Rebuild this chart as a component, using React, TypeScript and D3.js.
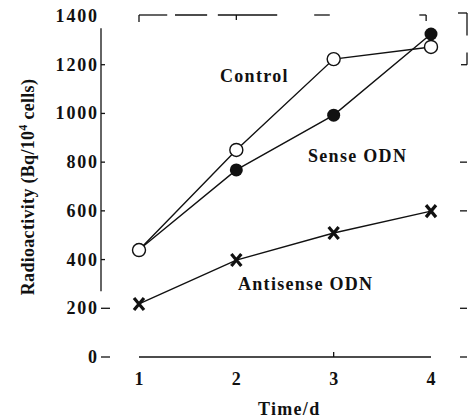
import { useEffect, useRef } from 'react'
import * as d3 from 'd3'

const days = [1, 2, 3, 4]
const controlValues = [439, 850, 1223, 1273]
const senseValues = [440, 768, 993, 1326]
const antisenseValues = [218, 398, 509, 599]
const yTicks = [0, 200, 400, 600, 800, 1000, 1200, 1400]
const xTicks = [1, 2, 3, 4]

const FONT = '"Liberation Serif", "Times New Roman", serif'

export default function App() {
  const svgRef = useRef<SVGSVGElement>(null)

  useEffect(() => {
    if (!svgRef.current) return
    const svg = d3.select(svgRef.current)
    svg.selectAll('*').remove()

    const x = d3.scaleLinear().domain([1, 4]).range([139, 431])
    const y = d3.scaleLinear().domain([0, 1400]).range([357, 16])
    const ink = '#111'

    const frame = svg.append('g').attr('stroke', ink).attr('stroke-width', 1.3).attr('fill', 'none')

    // left axis (broken in the scan)
    frame.append('line')
      .attr('x1', 101).attr('x2', 101)
      .attr('y1', y(1350)).attr('y2', y(270))

    // left ticks, pointing inward
    yTicks.forEach(t => {
      if (t === 1400) return
      frame.append('line')
        .attr('x1', 101).attr('x2', t <= 200 ? 110 : 105)
        .attr('y1', y(t)).attr('y2', y(t))
    })

    // top edge pieces
    const topPieces: [number, number][] = [[1, 1.29], [1.37, 1.7], [1.81, 2.42], [2.8, 2.96], [3.88, 3.95]]
    topPieces.forEach(([a, b]) => {
      frame.append('line')
        .attr('x1', x(a)).attr('x2', x(b))
        .attr('y1', y(1400) - 1).attr('y2', y(1400) - 1)
    })
    frame.append('line').attr('x1', x(1)).attr('x2', x(1)).attr('y1', y(1400) - 1).attr('y2', y(1400) + 6)
    frame.append('line').attr('x1', x(2)).attr('x2', x(2)).attr('y1', y(1400) - 1).attr('y2', y(1400) + 4)
    frame.append('line').attr('x1', x(3.95)).attr('x2', x(3.95)).attr('y1', y(1400) - 1).attr('y2', y(1400) + 5)

    // right edge
    const rx = 467
    frame.append('line').attr('x1', rx - 9).attr('x2', rx).attr('y1', y(1400) - 3).attr('y2', y(1400) - 3)
    frame.append('line').attr('x1', rx).attr('x2', rx).attr('y1', y(1400) - 3).attr('y2', y(1320))
    frame.append('line').attr('x1', rx).attr('x2', rx).attr('y1', y(1250)).attr('y2', y(1200))
    frame.append('line').attr('x1', rx - 6).attr('x2', rx).attr('y1', y(1200)).attr('y2', y(1200))
    ;[800, 600, 200, 0].forEach(t => {
      frame.append('line').attr('x1', rx - 7).attr('x2', rx).attr('y1', y(t)).attr('y2', y(t))
    })

    // bottom axis
    frame.append('line').attr('x1', x(1)).attr('x2', x(4)).attr('y1', y(0)).attr('y2', y(0))
    frame.append('line').attr('x1', x(3)).attr('x2', x(3)).attr('y1', y(0)).attr('y2', y(0) - 5)

    // tick labels
    const tickLs = 1.8
    svg.append('g').selectAll('text').data(yTicks).join('text')
      .attr('x', 97 + tickLs).attr('y', d => y(d) + 6)
      .attr('text-anchor', 'end')
      .attr('font-family', FONT).attr('font-weight', 'bold').attr('font-size', 18)
      .attr('letter-spacing', tickLs)
      .attr('fill', ink)
      .text(d => d)

    svg.append('g').selectAll('text').data(xTicks).join('text')
      .attr('x', d => x(d)).attr('y', 385)
      .attr('text-anchor', 'middle')
      .attr('font-family', FONT).attr('font-weight', 'bold').attr('font-size', 18)
      .attr('fill', ink)
      .text(d => d)

    svg.append('text')
      .attr('x', 258).attr('y', 415)
      .attr('font-family', FONT).attr('font-weight', 'bold').attr('font-size', 18)
      .attr('letter-spacing', 1.3)
      .attr('fill', ink)
      .text('Time/d')

    const yl = svg.append('text')
      .attr('transform', 'translate(34,187) rotate(-90)')
      .attr('text-anchor', 'middle')
      .attr('font-family', FONT).attr('font-weight', 'bold').attr('font-size', 18)
      .attr('letter-spacing', 0.3)
      .attr('fill', ink)
    yl.append('tspan').text('Radioactivity (Bq/10')
    yl.append('tspan').attr('font-size', 12).attr('dy', -7).text('4')
    yl.append('tspan').attr('dy', 7).text(' cells)')

    // series lines
    const line = d3.line<number>().x((_, i) => x(days[i])).y(d => y(d))
    ;[controlValues, senseValues, antisenseValues].forEach(vals => {
      svg.append('path')
        .datum(vals)
        .attr('d', line)
        .attr('fill', 'none')
        .attr('stroke', ink)
        .attr('stroke-width', 1.4)
    })

    // markers
    svg.append('g').selectAll('circle').data(senseValues).join('circle')
      .attr('cx', (_, i) => x(days[i])).attr('cy', d => y(d))
      .attr('r', 6.5).attr('fill', ink)

    svg.append('g').selectAll('circle').data(controlValues).join('circle')
      .attr('cx', (_, i) => x(days[i])).attr('cy', d => y(d))
      .attr('r', 6.5).attr('fill', '#fff').attr('stroke', ink).attr('stroke-width', 1.4)

    svg.append('g').selectAll('path').data(antisenseValues).join('path')
      .attr('d', (d, i) => {
        const cx = x(days[i]), cy = y(d), sx = 5, sy = 6
        return `M${cx - sx},${cy - sy}L${cx + sx},${cy + sy}M${cx + sx},${cy - sy}L${cx - sx},${cy + sy}`
      })
      .attr('stroke', ink).attr('stroke-width', 3.2).attr('fill', 'none')

    // series labels
    const labels = [
      { text: 'Control', x: 220, y: 82 },
      { text: 'Sense ODN', x: 308, y: 162 },
      { text: 'Antisense ODN', x: 238, y: 290 },
    ]
    svg.append('g').selectAll('text').data(labels).join('text')
      .attr('x', d => d.x).attr('y', d => d.y)
      .attr('font-family', FONT).attr('font-weight', 'bold').attr('font-size', 18)
      .attr('letter-spacing', 1.3)
      .attr('fill', ink)
      .text(d => d.text)
  }, [])

  return (
    <svg
      ref={svgRef}
      width={474}
      height={419}
      style={{ position: 'absolute', left: 0, top: 0, background: '#fff' }}
    />
  )
}
